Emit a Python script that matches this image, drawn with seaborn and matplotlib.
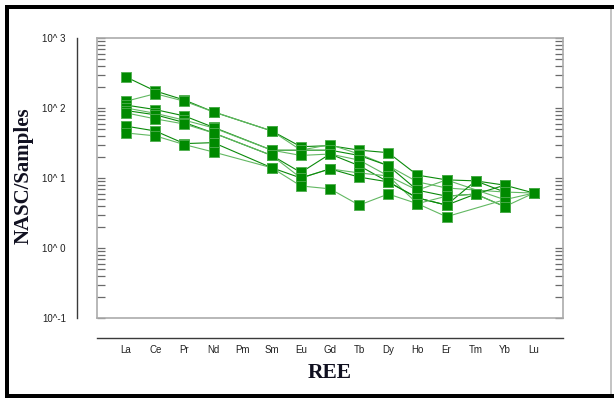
import numpy as np
import pandas as pd
import matplotlib
matplotlib.use("Agg")
import matplotlib.pyplot as plt
import seaborn as sns
from matplotlib.ticker import LogLocator, FixedLocator, NullFormatter, NullLocator
from matplotlib.patches import Rectangle

# Rare earth elements on the x axis (Pm has no analyses)
elements = ["La", "Ce", "Pr", "Nd", "Pm", "Sm", "Eu", "Gd", "Tb", "Dy",
            "Ho", "Er", "Tm", "Yb", "Lu"]

nan = np.nan
# NASC-normalised concentrations for each sample, one value per element
sample_1 = [277, 175, 130, 88, nan, 47, 28, 29, 25, 23, 11, 9.4, 9.1, 7.9, 6.1]
sample_2 = [125, 160, 125, 88, nan, 47, 25, 30, 22, 15, 8.8, 7.2, nan, 6.3, 6.1]
sample_3 = [110, 95, 77, 53, nan, 25, 25, 25, 21, 15, 6.7, 5.5, 5.9, 7.9, nan]
sample_4 = [100, 84, 67, 52, nan, 25, 21, 22, 18, 10.7, 6.7, 9.4, nan, 4.9, 6.1]
sample_5 = [92, 80, 62, 44, nan, 21, 12, 22, 15, 8.8, 5.2, 4.1, 5.9, 3.9, nan]
sample_6 = [85, 70, 59, 44, nan, 21, 10, 13.5, 11.8, 10.7, 4.3, 2.8, nan, 4.9, nan]
sample_7 = [55, 47, 31, 32, nan, 14, 10, 13.5, 10.3, 8.8, 5.2, 4.1, 9.1, 6.3, nan]
sample_8 = [44, 40, 30, 23.5, nan, 14, 7.7, 7, 4.1, 5.9, 4.3, 5.5, 5.9, 3.9, 6.1]

samples = {
    "S1": sample_1, "S2": sample_2, "S3": sample_3, "S4": sample_4,
    "S5": sample_5, "S6": sample_6, "S7": sample_7, "S8": sample_8,
}

y_tick_values = [0.1, 1, 10, 100, 1000]
y_tick_labels = ["10^-1", "10^ 0", "10^ 1", "10^ 2", "10^ 3"]

# Long-form table; missing elements are skipped so each profile joins its neighbours
rows = []
for name, vals in samples.items():
    for i, v in enumerate(vals):
        if not np.isnan(v):
            rows.append({"sample": name, "pos": i, "value": v})
df = pd.DataFrame(rows)

sns.set_style("white")
plt.rcParams["font.family"] = ["Liberation Sans", "DejaVu Sans"]

W, H = 614, 399
fig = plt.figure(figsize=(W / 100, H / 100), dpi=100)
fig.patch.set_facecolor("white")

def px_rect(x0, y0, x1, y1):
    return [x0 / W, 1 - y1 / H, (x1 - x0) / W, (y1 - y0) / H]

rect = px_rect(97, 38, 563, 318)

# Outer axes: detached value axis and element axis
ax_o = fig.add_axes(rect)
ax_o.set_yscale("log")
ax_o.set_ylim(0.1, 1000)
ax_o.set_xlim(-1, 15)
ax_o.patch.set_alpha(0)
for s in ("top", "right"):
    ax_o.spines[s].set_visible(False)
for s in ("left", "bottom"):
    ax_o.spines[s].set_position(("outward", 14.4))
    ax_o.spines[s].set_color("#3a3a3a")
    ax_o.spines[s].set_linewidth(1.0)
ax_o.yaxis.set_major_locator(FixedLocator(y_tick_values))
ax_o.set_yticklabels(y_tick_labels)
ax_o.yaxis.set_minor_locator(NullLocator())
ax_o.set_xticks(range(len(elements)))
ax_o.set_xticklabels(elements)
ax_o.tick_params(axis="y", which="major", direction="out", length=3, width=1,
                 color="#3a3a3a", pad=5, labelsize=7, labelcolor="#202020")
ax_o.tick_params(axis="x", which="major", direction="in", length=4, width=1,
                 color="#3a3a3a", pad=5, labelsize=7, labelcolor="#202020")

# Inner plotting box
ax = fig.add_axes(rect)
palette = ["#0a8a0a", "#62b862", "#0a8a0a", "#62b862",
           "#0a8a0a", "#62b862", "#0a8a0a", "#62b862"]
sns.lineplot(data=df, x="pos", y="value", hue="sample", palette=palette,
             estimator=None, sort=False, linewidth=0.8, legend=False, ax=ax)
sns.scatterplot(data=df, x="pos", y="value", marker="s", s=50, color="#008a00",
                edgecolor="#4fae4f", linewidth=0.6, legend=False, ax=ax, zorder=3)
ax.set_yscale("log")
ax.set_ylim(0.1, 1000)
ax.set_xlim(-1, 15)
ax.set_xticks([])
ax.set_xlabel("")
ax.set_ylabel("")
ax.yaxis.set_major_locator(FixedLocator(y_tick_values))
ax.yaxis.set_minor_locator(LogLocator(base=10, subs=np.arange(2, 10)))
ax.yaxis.set_major_formatter(NullFormatter())
ax.yaxis.set_minor_formatter(NullFormatter())
ax.tick_params(axis="y", which="both", direction="in", left=True, right=True,
               labelleft=False, length=6, width=0.9, color="#6a6a6a")
for s in ax.spines.values():
    s.set_color("#ababab")
    s.set_linewidth(1.2)
    s.set_visible(True)

# Axis titles
fig.text(330 / W, 1 - 373 / H, "REE", ha="center", va="center",
         family=["Liberation Serif", "DejaVu Serif"], weight="bold",
         fontsize=15.5, color="#101020")
fig.text(24 / W, 1 - 176 / H, "NASC/Samples", ha="center", va="center",
         rotation=90, family=["Liberation Serif", "DejaVu Serif"],
         weight="bold", fontsize=15, color="#101020")

# Page frame
def frame_bar(x0, y0, x1, y1, color):
    r = px_rect(x0, y0, x1, y1)
    fig.add_artist(Rectangle((r[0], r[1]), r[2], r[3], transform=fig.transFigure,
                             facecolor=color, edgecolor="none", zorder=10))

frame_bar(5, 5, 9, 398, "black")
frame_bar(5, 5, 614, 9, "black")
frame_bar(5, 394, 614, 398, "black")
frame_bar(610, 9, 612, 394, "#c4c4c4")

fig.savefig("out.png", dpi=100)
